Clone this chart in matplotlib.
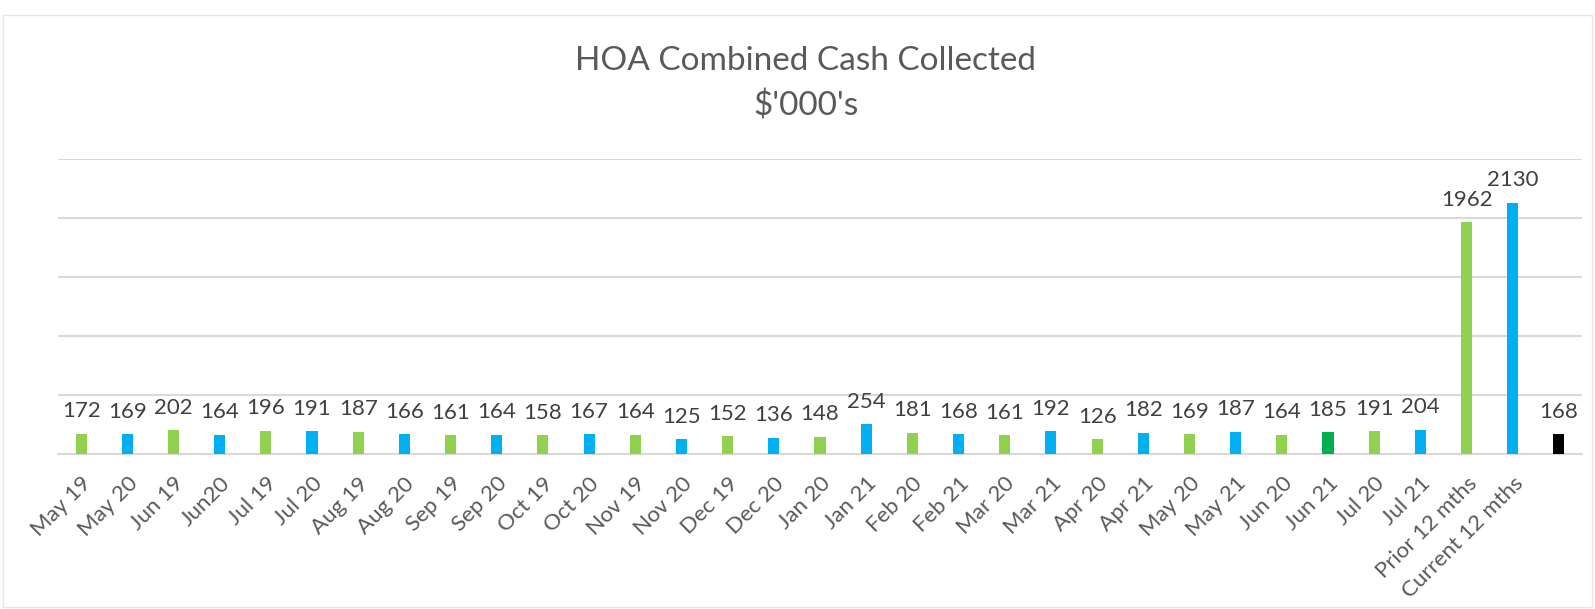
import matplotlib
matplotlib.use("Agg")
import matplotlib.pyplot as plt
from matplotlib.patches import Rectangle

categories = ["May 19", "May 20", "Jun 19", "Jun20", "Jul 19", "Jul 20", "Aug 19", "Aug 20",
              "Sep 19", "Sep 20", "Oct 19", "Oct 20", "Nov 19", "Nov 20", "Dec 19", "Dec 20",
              "Jan 20", "Jan 21", "Feb 20", "Feb 21", "Mar 20", "Mar 21", "Apr 20", "Apr 21",
              "May 20", "May 21", "Jun 20", "Jun 21", "Jul 20", "Jul 21",
              "Prior 12 mths", "Current 12 mths", ""]
values = [172, 169, 202, 164, 196, 191, 187, 166, 161, 164, 158, 167, 164, 125, 152, 136,
          148, 254, 181, 168, 161, 192, 126, 182, 169, 187, 164, 185, 191, 204,
          1962, 2130, 168]

GREEN = "#92D050"
BLUE = "#00B0F0"
DARK_GREEN = "#00B050"
BLACK = "#000000"
colors = [GREEN if i % 2 == 0 else BLUE for i in range(30)]
colors[27] = DARK_GREEN
colors += [GREEN, BLUE, BLACK]

plt.rcParams['font.family'] = ['Lato', 'DejaVu Sans']
TEXT = "#404040"

fig = plt.figure(figsize=(15.95, 6.09), dpi=100)
fig.patches.append(Rectangle((0.002, 0.003), 0.996, 0.972, transform=fig.transFigure,
                             fill=False, edgecolor="#E6E6E6", linewidth=1))
ax = fig.add_axes([58 / 1595, 1 - 454 / 609, (1582 - 58) / 1595, (454 - 159) / 609])

x = list(range(len(categories)))
bars = ax.bar(x, values, width=0.24, color=colors, zorder=3)
ax.set_xlim(-0.5, len(categories) - 0.5)
ax.set_ylim(0, 2500)
ax.set_yticks([0, 500, 1000, 1500, 2000, 2500])
ax.set_yticklabels([])
ax.tick_params(axis='y', length=0)
ax.grid(axis='y', color="#D9D9D9", linewidth=1.5, zorder=0)
for s in ["top", "right", "left"]:
    ax.spines[s].set_visible(False)
ax.spines["bottom"].set_color("#D9D9D9")
ax.spines["bottom"].set_linewidth(1.5)

ax.set_xticks(x)
ax.set_xticklabels(categories, rotation=45, ha="right", rotation_mode="anchor",
                   fontsize=16, color="#595959")
ax.tick_params(axis='x', length=0, pad=14)

for xi, v in zip(x, values):
    ax.annotate(str(v), (xi, v), xytext=(0, 9), textcoords="offset points",
                ha="center", va="bottom", fontsize=16, color=TEXT)

fig.text(806 / 1595, 1 - 61 / 609, "HOA Combined Cash Collected", ha="center", va="center",
         fontsize=24, color="#595959")
fig.text(806 / 1595, 1 - 106 / 609, "$'000's", ha="center", va="center",
         fontsize=24, color="#595959")

fig.savefig("out.png", dpi=100)
